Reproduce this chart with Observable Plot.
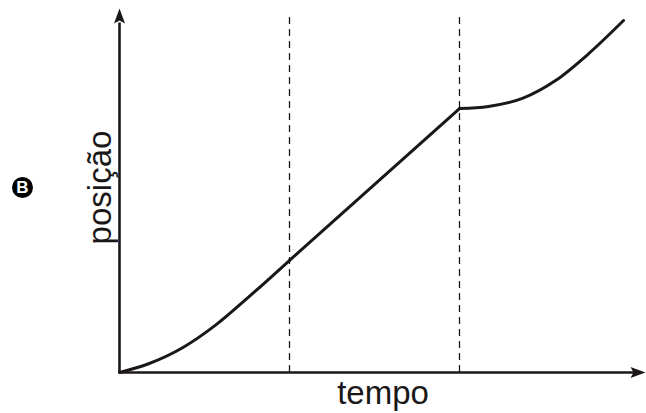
<!DOCTYPE html>
<html>
<head>
<meta charset="utf-8">
<script src="https://cdn.jsdelivr.net/npm/d3@7"></script>
<script src="https://cdn.jsdelivr.net/npm/@observablehq/plot@0.6"></script>
<style>
  html, body { margin: 0; padding: 0; background: #fff; }
</style>
</head>
<body>
<div id="chart"></div>
<script>
// Segment 1: accelerating start (tempo, posição)
const seg1T = [0, 0.171, 0.371, 0.565, 0.759, 1.0];
const seg1P = [0, 0.24, 0.68, 1.30, 2.07, 3.08];
// Segment 2: uniform motion
const seg2T = [1.0, 2.0];
const seg2P = [3.08, 7.25];
// Segment 3: accelerating again
const seg3T = [2.0, 2.17, 2.37, 2.565, 2.76, 2.965];
const seg3P = [7.25, 7.31, 7.53, 8.02, 8.76, 9.67];
// Dashed time markers
const markerT = [1, 2];
// Axis extents
const tMax = 3.094;
const pMax = 10;
const xLabel = "tempo";
const yLabel = "posição";
const badge = "B";

const rows = [];
seg1T.forEach((t, i) => rows.push({t, p: seg1P[i], s: 1}));
seg2T.forEach((t, i) => rows.push({t, p: seg2P[i], s: 2}));
seg3T.forEach((t, i) => rows.push({t, p: seg3P[i], s: 3}));

const arrowHead = {
  draw(ctx) {
    ctx.moveTo(0, 0);
    ctx.lineTo(5.5, 15);
    ctx.lineTo(0, 12);
    ctx.lineTo(-5.5, 15);
    ctx.closePath();
  }
};

const ink = "#1b1718";

const chart = Plot.plot({
  width: 646,
  height: 413,
  marginLeft: 119,
  marginRight: 0,
  marginTop: 8,
  marginBottom: 41,
  x: {domain: [0, 3.1], axis: null},
  y: {domain: [0, 10], axis: null},
  style: {fontFamily: "'Liberation Sans', Arial, sans-serif", background: "#fff"},
  marks: [
    Plot.ruleX(markerT, {y1: 0, y2: 9.86, stroke: ink, strokeWidth: 1.3, strokeDasharray: "7,5"}),
    Plot.ruleX([0], {y1: 0, y2: 9.6, stroke: ink, strokeWidth: 2.6}),
    Plot.ruleY([0], {x1: 0, x2: 3.05, stroke: ink, strokeWidth: 2.6}),
    Plot.dot([{t: 0, p: pMax}], {x: "t", y: "p", symbol: arrowHead, fill: ink, stroke: "none"}),
    Plot.dot([{t: tMax, p: 0}], {x: "t", y: "p", symbol: arrowHead, rotate: 90, fill: ink, stroke: "none"}),
    Plot.line(rows, {x: "t", y: "p", z: "s", curve: "monotone-x", stroke: ink, strokeWidth: 3, strokeLinejoin: "round", strokeLinecap: "round"}),
    Plot.text([xLabel], {frameAnchor: "bottom", text: d => d, textAnchor: "middle", lineAnchor: "middle", dy: 21, fontSize: 33, fill: ink}),
    Plot.text([yLabel], {frameAnchor: "left", text: d => d, textAnchor: "middle", lineAnchor: "middle", rotate: -90, dx: -19.5, dy: -3, fontSize: 33, fill: ink}),
    Plot.dot([badge], {frameAnchor: "left", dx: -97, dy: -3, r: 10.5, fill: "#000", stroke: "none"}),
    Plot.text([badge], {frameAnchor: "left", text: d => d, textAnchor: "middle", lineAnchor: "middle", dx: -97, dy: -3, fontSize: 17, fontWeight: "bold", fill: "#fff"})
  ]
});

document.getElementById("chart").appendChild(chart);
</script>
</body>
</html>
